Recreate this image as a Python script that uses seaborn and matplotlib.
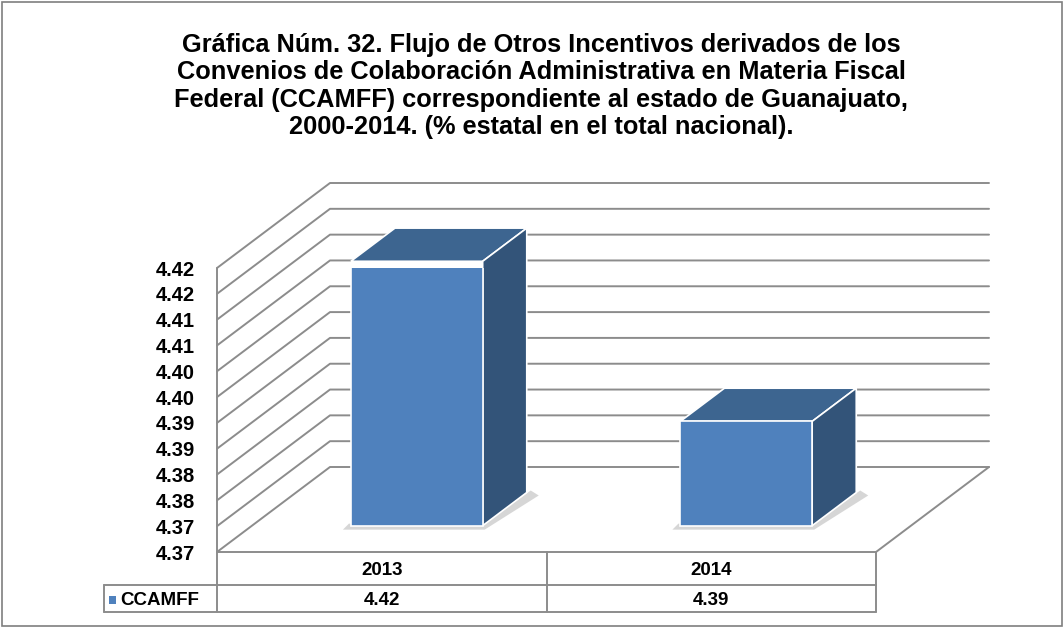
import seaborn as sns
import matplotlib.pyplot as plt
from matplotlib.patches import Polygon, Rectangle
from matplotlib.lines import Line2D
from matplotlib.transforms import IdentityTransform, ScaledTranslation

# data
years = ['2013', '2014']
ccamff = [4.4162, 4.3852]
table_values = ['4.42', '4.39']
series_name = 'CCAMFF'
y_ticks = [4.365, 4.370, 4.375, 4.380, 4.385, 4.390,
           4.395, 4.400, 4.405, 4.410, 4.415, 4.420]
y_tick_labels = ['4.37', '4.37', '4.38', '4.38', '4.39', '4.39',
                 '4.40', '4.40', '4.41', '4.41', '4.42', '4.42']
title = ('Gráfica Núm. 32. Flujo de Otros Incentivos derivados de los\n'
         'Convenios de Colaboración Administrativa en Materia Fiscal\n'
         'Federal (CCAMFF) correspondiente al estado de Guanajuato,\n'
         '2000-2014. (% estatal en el total nacional).')

W, H, DPI = 1064, 628, 100
DEPTH_X, DEPTH_Y = 113, 85          # wall depth in pixels
BAR_START, BAR_DEPTH = 0.31, 0.39   # fractions of the depth
FRONT, SIDE, TOP = '#4F81BD', '#335479', '#3D6590'
GRID = '#8C8C8C'

sns.set_style('white')
plt.rcParams['font.family'] = ['Liberation Sans', 'DejaVu Sans']
plt.rcParams['text.color'] = 'black'
plt.rcParams['ytick.labelcolor'] = 'black'

fig = plt.figure(figsize=(W / DPI, H / DPI), dpi=DPI)
fig.add_artist(Rectangle((2 / W, 2 / H), 1 - 4 / W, 1 - 4 / H, transform=fig.transFigure,
                         fill=False, edgecolor='#7F7F7F', linewidth=1.2))

fig.text(541 / W, 1 - 86 / H, title, ha='center', va='center', fontsize=18.3,
         fontweight='bold', linespacing=1.16)

# axes = the front plane of the 3-D box
ax = fig.add_axes([217 / W, 1 - 552 / H, 659 / W, 284 / H])
ax.set_xlim(-0.5, 1.5)
ax.set_ylim(y_ticks[0], y_ticks[-1])
ax.patch.set_visible(False)
for s in ax.spines.values():
    s.set_visible(False)

sns.barplot(x=years, y=ccamff, ax=ax, width=0.40, color=FRONT,
            edgecolor='white', linewidth=1.2, saturation=1, zorder=5)

ax.set_yticks(y_ticks, y_tick_labels)
ax.set_xticks([])
ax.set_xlabel('')
ax.tick_params(axis='y', length=0, pad=16, labelsize=14.5, labelcolor='black')
for lab in ax.get_yticklabels():
    lab.set_fontweight('bold')

fig.canvas.draw()
ident = IdentityTransform()
to_disp = ax.transData.transform
x0, x1 = ax.get_xlim()
base = y_ticks[0]


def line(pts, **kw):
    ax.add_line(Line2D([p[0] for p in pts], [p[1] for p in pts], transform=ident,
                       clip_on=False, color=GRID, linewidth=1.4, **kw))


# side wall + back wall gridlines
for yt in y_ticks:
    fx, fy = to_disp((x0, yt))
    ex, ey = to_disp((x1, yt))
    line([(fx, fy), (fx + DEPTH_X, fy + DEPTH_Y), (ex + DEPTH_X, ey + DEPTH_Y)], zorder=1)

# floor and front axis
bl = to_disp((x0, base))
br = to_disp((x1, base))
tl = to_disp((x0, y_ticks[-1]))
line([tl, bl, br, (br[0] + DEPTH_X, br[1] + DEPTH_Y)], zorder=2)

# 3-D bars: move the seaborn bars back into the box and add top and side faces
sx, sy = DEPTH_X * BAR_START, DEPTH_Y * BAR_START
dx, dy = DEPTH_X * BAR_DEPTH, DEPTH_Y * BAR_DEPTH
shift = ScaledTranslation(sx / DPI, sy / DPI, fig.dpi_scale_trans)
for p in ax.patches:
    top = p.get_y() + p.get_height()
    p.set_y(base)
    p.set_height(top - base)
    p.set_transform(ax.transData + shift)
    (ax0, ay0) = to_disp((p.get_x(), base))
    (ax1, ay1) = to_disp((p.get_x() + p.get_width(), top))
    ax0, ax1, ay0, ay1 = ax0 + sx, ax1 + sx, ay0 + sy, ay1 + sy
    shadow = [(ax0 - 8, ay0 - 4), (ax1 + 2, ay0 - 4), (ax1 + dx + 12, ay0 + dy - 3),
              (ax1 + dx + 4, ay0 + dy + 2), (ax1, ay0 + 2), (ax0 - 2, ay0 + 2)]
    ax.add_patch(Polygon(shadow, closed=True, transform=ident, clip_on=False,
                         facecolor='#A6A6A6', edgecolor='none', alpha=0.45, zorder=3))
    ax.add_patch(Polygon([(ax0, ay1), (ax1, ay1), (ax1 + dx, ay1 + dy), (ax0 + dx, ay1 + dy)],
                         closed=True, transform=ident, clip_on=False, facecolor=TOP,
                         edgecolor='white', linewidth=1.2, zorder=4))
    ax.add_patch(Polygon([(ax1, ay0), (ax1, ay1), (ax1 + dx, ay1 + dy), (ax1 + dx, ay0 + dy)],
                         closed=True, transform=ident, clip_on=False, facecolor=SIDE,
                         edgecolor='white', linewidth=1.2, zorder=4))

# data table under the floor
row1, row2, row3 = bl[1], bl[1] - 33, bl[1] - 60
legend_left = 104
mid = to_disp((0.5, base))[0]
line([(bl[0], row1), (bl[0], row3)], zorder=2)
line([(br[0], row1), (br[0], row3)], zorder=2)
line([(mid, row1), (mid, row3)], zorder=2)
line([(legend_left, row2), (br[0], row2)], zorder=2)
line([(legend_left, row3), (br[0], row3)], zorder=2)
line([(legend_left, row2), (legend_left, row3)], zorder=2)

for i, (yr, val) in enumerate(zip(years, table_values)):
    cx = to_disp((i, base))[0]
    for txt, ry in ((yr, (row1 + row2) / 2), (val, (row2 + row3) / 2)):
        ax.text(cx, ry - 2, txt, transform=ident, ha='center', va='center',
                fontsize=13.5, fontweight='bold', color='black')

ry = (row2 + row3) / 2
ax.add_patch(Rectangle((legend_left + 5, ry - 5), 7, 8, transform=ident, clip_on=False,
                       facecolor=FRONT, edgecolor='none'))
ax.text(legend_left + 16, ry - 2, series_name, transform=ident, ha='left', va='center',
        fontsize=13.5, fontweight='bold', color='black')

fig.savefig('out.png', dpi=DPI)
